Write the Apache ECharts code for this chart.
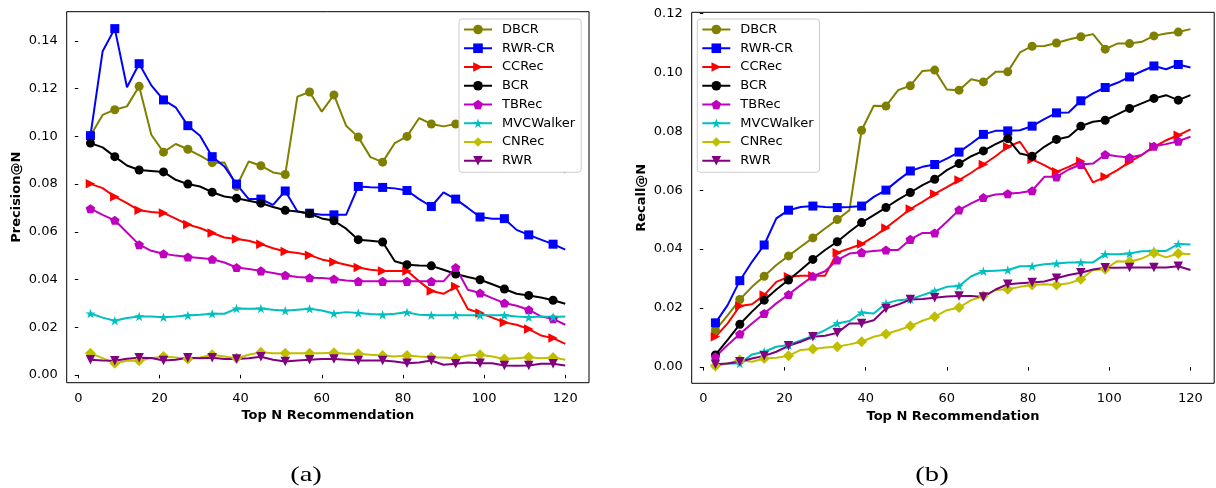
<!DOCTYPE html>
<html><head><meta charset="utf-8">
<script src="https://cdn.jsdelivr.net/npm/echarts@6/dist/echarts.min.js"></script>
<style>html,body{margin:0;padding:0;background:#fff}#c{width:1216px;height:488px}</style>
</head><body><div id="c"></div>
<script>
// ---- data ----
const topN = [3,6,9,12,15,18,21,24,27,30,33,36,39,42,45,48,51,54,57,60,63,66,69,72,75,78,81,84,87,90,93,96,99,102,105,108,111,114,117,120];
const methods = ['DBCR','RWR-CR','CCRec','BCR','TBRec','MVCWalker','CNRec','RWR'];

const precisionDBCR = [0.1003,0.109,0.1112,0.1126,0.121,0.1007,0.0934,0.0968,0.0946,0.0919,0.089,0.0891,0.079,0.0895,0.0877,0.0849,0.084,0.1167,0.1186,0.1104,0.1174,0.1045,0.0997,0.0913,0.0892,0.0972,0.1,0.1077,0.1052,0.1042,0.1052,0.1055,0.106,0.105,0.104,0.101,0.097,0.093,0.089,0.0848];
const precisionRWRCR = [0.1003,0.1357,0.1452,0.1206,0.1305,0.1214,0.1153,0.1122,0.1045,0.1003,0.0915,0.0874,0.08,0.0737,0.0737,0.0713,0.0771,0.0685,0.0678,0.0671,0.0671,0.0671,0.079,0.0787,0.0786,0.0782,0.0773,0.0737,0.0706,0.0765,0.0737,0.07,0.0662,0.0655,0.0655,0.0608,0.0587,0.0567,0.0548,0.0525];
const precisionCCRec = [0.0801,0.0783,0.0747,0.072,0.069,0.0683,0.0679,0.0655,0.063,0.0616,0.0595,0.0576,0.057,0.0562,0.0548,0.0531,0.0517,0.0511,0.0502,0.0484,0.0473,0.0462,0.045,0.0441,0.0436,0.0436,0.0436,0.0392,0.0352,0.034,0.037,0.0276,0.0259,0.024,0.022,0.021,0.0192,0.0165,0.0154,0.013];
const precisionBCR = [0.0972,0.0954,0.0915,0.0878,0.0859,0.0855,0.0851,0.0818,0.08,0.079,0.0766,0.0748,0.0741,0.073,0.072,0.0704,0.069,0.0685,0.0676,0.0656,0.0646,0.0613,0.0567,0.0562,0.0557,0.0476,0.0462,0.0459,0.0457,0.0441,0.0423,0.041,0.0399,0.038,0.036,0.034,0.0333,0.0324,0.0313,0.0298];
const precisionTBRec = [0.0697,0.0671,0.0648,0.0597,0.0546,0.052,0.0508,0.05,0.0494,0.049,0.0485,0.0471,0.045,0.0444,0.0436,0.0427,0.0418,0.041,0.0407,0.0406,0.0402,0.0396,0.0392,0.0392,0.0392,0.0392,0.0392,0.0392,0.0392,0.0392,0.045,0.0357,0.0343,0.0322,0.0301,0.029,0.0273,0.0245,0.0235,0.021];
const precisionMVCWalker = [0.0257,0.024,0.0227,0.0238,0.0245,0.0245,0.0242,0.0245,0.0249,0.0252,0.0256,0.0256,0.0278,0.0277,0.0278,0.0273,0.0269,0.0273,0.0277,0.027,0.0257,0.0263,0.0259,0.0255,0.0252,0.0256,0.0262,0.0252,0.025,0.025,0.025,0.025,0.025,0.025,0.025,0.0245,0.0242,0.0245,0.0243,0.0245];
const precisionCNRec = [0.0091,0.007,0.0049,0.0059,0.0059,0.007,0.0077,0.0073,0.0066,0.0073,0.0084,0.0077,0.007,0.0084,0.0095,0.0091,0.0091,0.0091,0.0091,0.0091,0.0093,0.0088,0.0088,0.0084,0.0081,0.0077,0.0081,0.0077,0.0074,0.0073,0.007,0.0081,0.0084,0.0077,0.0066,0.007,0.0074,0.007,0.0073,0.0063];
const precisionRWR = [0.0063,0.006,0.0059,0.0067,0.0072,0.0071,0.006,0.0063,0.0072,0.007,0.0072,0.0066,0.0066,0.007,0.0076,0.0063,0.0056,0.006,0.0063,0.0066,0.0066,0.0063,0.006,0.006,0.006,0.0056,0.0049,0.0052,0.006,0.0042,0.0046,0.0052,0.0049,0.0049,0.0039,0.0038,0.0039,0.0046,0.0046,0.0039];

const recallDBCR = [0.0125,0.0175,0.0229,0.0272,0.0308,0.0346,0.0377,0.0408,0.0438,0.047,0.05,0.0532,0.0803,0.0886,0.0885,0.0939,0.0954,0.1004,0.1007,0.0941,0.0939,0.0976,0.0967,0.1001,0.1001,0.1067,0.1088,0.1089,0.1099,0.1111,0.112,0.1129,0.1078,0.1097,0.1097,0.1103,0.1123,0.1131,0.1136,0.1146];
const recallRWRCR = [0.015,0.021,0.0293,0.0357,0.0414,0.0504,0.0532,0.0543,0.0546,0.0543,0.0541,0.0543,0.0546,0.0577,0.06,0.0634,0.0665,0.0679,0.0687,0.0707,0.0729,0.0758,0.0789,0.0801,0.0801,0.0803,0.0817,0.0841,0.0862,0.0863,0.0903,0.0928,0.0948,0.0964,0.0984,0.1003,0.1021,0.101,0.1026,0.1016];
const recallCCRec = [0.0103,0.0148,0.0207,0.0213,0.0244,0.0289,0.0306,0.031,0.031,0.031,0.0388,0.0402,0.0417,0.0442,0.0472,0.0504,0.0536,0.056,0.0587,0.061,0.0634,0.0659,0.0687,0.0715,0.0747,0.0764,0.0704,0.0685,0.0662,0.0679,0.0698,0.0626,0.0645,0.0668,0.0696,0.0719,0.0747,0.0769,0.0786,0.0806];
const recallBCR = [0.0041,0.0092,0.0145,0.0188,0.0227,0.0263,0.0295,0.0329,0.0365,0.0397,0.0425,0.0459,0.049,0.0515,0.0541,0.0568,0.0592,0.0617,0.0637,0.0668,0.069,0.0715,0.0733,0.0756,0.0775,0.0724,0.0715,0.0747,0.0772,0.0781,0.0817,0.0832,0.0837,0.0857,0.0877,0.0894,0.0911,0.0922,0.0905,0.0922];
const recallTBRec = [0.0035,0.0075,0.0112,0.0148,0.0182,0.0216,0.0246,0.0278,0.0308,0.0325,0.0363,0.0385,0.0389,0.0394,0.0397,0.0397,0.0433,0.0455,0.0455,0.0493,0.0533,0.0555,0.0575,0.0585,0.0588,0.0591,0.0598,0.0645,0.0645,0.067,0.0687,0.069,0.0721,0.0715,0.0711,0.0719,0.0749,0.0756,0.0766,0.0781];
const recallMVCWalker = [0.0007,0.0012,0.0012,0.0043,0.0052,0.0069,0.0075,0.009,0.0106,0.0125,0.0148,0.0156,0.0185,0.0182,0.0216,0.0227,0.023,0.0244,0.0258,0.0272,0.0275,0.0308,0.0325,0.0327,0.0329,0.0342,0.0342,0.0349,0.0351,0.0355,0.0355,0.0355,0.0383,0.0383,0.0385,0.0393,0.0394,0.0394,0.0417,0.0416];
const recallCNRec = [0.0004,0.0012,0.0024,0.0018,0.0029,0.0032,0.0038,0.0058,0.0061,0.0066,0.0069,0.0077,0.0086,0.0103,0.0112,0.0125,0.0139,0.0157,0.0171,0.0193,0.0202,0.0227,0.0241,0.0261,0.0264,0.0272,0.0278,0.0281,0.0278,0.0284,0.0298,0.0329,0.0332,0.0359,0.0357,0.0368,0.0387,0.0372,0.0385,0.0383];
const recallRWR = [0.001,0.0012,0.0018,0.0029,0.0038,0.0052,0.0072,0.0086,0.0103,0.0106,0.0116,0.0148,0.0148,0.0159,0.0199,0.0212,0.0229,0.0231,0.0235,0.0239,0.0241,0.0241,0.0238,0.0263,0.0281,0.0284,0.0287,0.029,0.0301,0.0312,0.032,0.0331,0.0337,0.0337,0.0338,0.0338,0.0338,0.0338,0.0342,0.0329];

const xTicks = [0,20,40,60,80,100,120];
const precisionTicks = [0,0.02,0.04,0.06,0.08,0.10,0.12,0.14];
const recallTicks = [0,0.02,0.04,0.06,0.08,0.10,0.12];
const xTitle = 'Top N Recommendation';
const yTitles = ['Precision@N','Recall@N'];
const captions = ['(a)','(b)'];

const precisionData = [precisionDBCR,precisionRWRCR,precisionCCRec,precisionBCR,precisionTBRec,precisionMVCWalker,precisionCNRec,precisionRWR];
const recallData = [recallDBCR,recallRWRCR,recallCCRec,recallBCR,recallTBRec,recallMVCWalker,recallCNRec,recallRWR];

// ---- styles ----
const PENT = 'path://M0,-1L0.951,-0.309L0.588,0.809L-0.588,0.809L-0.951,-0.309Z';
const STAR = 'path://M0,-1L0.2245,-0.309L0.951,-0.309L0.3633,0.118L0.5878,0.809L0,0.382L-0.5878,0.809L-0.3633,0.118L-0.951,-0.309L-0.2245,-0.309Z';
const styles = {
  'DBCR': {color:'#808000', symbol:'circle', size:9},
  'RWR-CR': {color:'#0000ff', symbol:'rect', size:9},
  'CCRec': {color:'#ff0000', symbol:'triangle', rotate:-90, size:9.5},
  'BCR': {color:'#000000', symbol:'circle', size:9},
  'TBRec': {color:'#bf00bf', symbol:PENT, size:9.5},
  'MVCWalker': {color:'#00bfbf', symbol:STAR, size:10},
  'CNRec': {color:'#bfbf00', symbol:'diamond', size:11},
  'RWR': {color:'#800080', symbol:'triangle', rotate:180, size:9.5}
};
const FONT = 'DejaVu Sans';

function mk(name, vals, gi) {
  const st = styles[name];
  return {
    type:'line', name:name, xAxisIndex:gi, yAxisIndex:gi,
    data: topN.map((n,i)=>[n, vals[i]]),
    symbol: st.symbol, symbolRotate: st.rotate||0, symbolKeepAspect:true,
    symbolSize: (v, p) => (p.dataIndex % 2 === 0 ? st.size : 0),
    showAllSymbol: true,
    lineStyle:{width:2, color:st.color}, itemStyle:{color:st.color, opacity:1},
    emphasis:{disabled:true}, silent:true, animation:false
  };
}

const grids = [
  {left:66.7, top:11.7, width:522.3, height:371},
  {left:691.7, top:12.3, width:522.5, height:371}
].map(g => Object.assign({show:true, borderColor:'#000', borderWidth:1, backgroundColor:'transparent'}, g));

function xAx(gi) {
  return {type:'value', gridIndex:gi, min:-2.85, max:125.85,
    axisLine:{show:false}, splitLine:{show:false},
    axisTick:{show:true, customValues:xTicks, length:3.5, lineStyle:{color:'#000', width:1}},
    axisLabel:{customValues:xTicks, color:'#000', fontSize:13, fontFamily:FONT, margin:9},
    name:xTitle, nameLocation:'middle', nameGap:26.5,
    nameTextStyle:{fontWeight:'bold', fontSize:13, fontFamily:FONT, color:'#000'}};
}
function yAx(gi, min, max, ticks) {
  return {type:'value', gridIndex:gi, min:min, max:max,
    axisLine:{show:false}, splitLine:{show:false},
    axisTick:{show:true, customValues:ticks, length:3.5, lineStyle:{color:'#000', width:1}},
    axisLabel:{customValues:ticks, color:'#000', fontSize:13, fontFamily:FONT, margin:9, formatter:v=>v.toFixed(2)},
    name:yTitles[gi], nameLocation:'middle', nameGap:44,
    nameTextStyle:{fontWeight:'bold', fontSize:13, fontFamily:FONT, color:'#000'}};
}
function lg(left) {
  return {data:methods, orient:'vertical', left:left, top:19, itemWidth:28, itemHeight:12, itemGap:5.75,
    padding:[4,6,5,4], backgroundColor:'#fff', borderColor:'#cccccc', borderWidth:1, borderRadius:3,
    selectedMode:false,
    textStyle:{fontFamily:FONT, fontSize:13, color:'#000', lineHeight:13, padding:[0,0,0,5]}};
}

const series = [];
methods.forEach((m,i)=>series.push(mk(m, precisionData[i], 0)));
methods.forEach((m,i)=>series.push(mk(m, recallData[i], 1)));

const chart = echarts.init(document.getElementById('c'), null, {renderer:'canvas'});
chart.setOption({
  animation:false,
  backgroundColor:'#fff',
  grid: grids,
  xAxis:[xAx(0), xAx(1)],
  yAxis:[yAx(0,-0.0033,0.1523,precisionTicks), yAx(1,-0.0055,0.1203,recallTicks)],
  legend:[lg(459), lg(697.3)],
  series: series,
  graphic:[
    {type:'text', x:306, y:475.5, scaleX:1.3, style:{text:captions[0], font:'22px "Liberation Serif"', fill:'#000', align:'center', verticalAlign:'middle'}},
    {type:'text', x:932, y:475.5, scaleX:1.3, style:{text:captions[1], font:'22px "Liberation Serif"', fill:'#000', align:'center', verticalAlign:'middle'}}
  ]
});
</script></body></html>
